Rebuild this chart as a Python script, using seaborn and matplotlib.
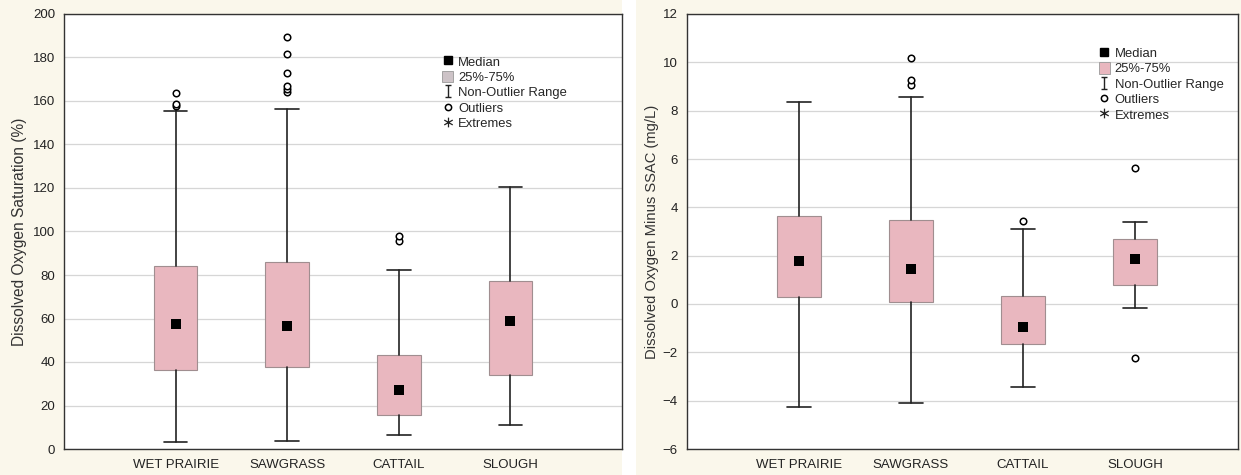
import matplotlib
matplotlib.use("Agg")
import matplotlib.pyplot as plt
from matplotlib.lines import Line2D
from matplotlib.patches import Patch, Rectangle
from matplotlib.path import Path
import seaborn as sns
import pandas as pd

categories = ["WET PRAIRIE", "SAWGRASS", "CATTAIL", "SLOUGH"]

# dissolved oxygen saturation (%)
sat_lo = [3.2, 3.8, 6.4, 11.0]
sat_q1 = [36.3, 37.5, 15.6, 34.0]
sat_med = [57.5, 56.5, 27.1, 58.9]
sat_q3 = [84.1, 86.0, 43.2, 77.2]
sat_hi = [155.5, 156.3, 82.3, 120.5]
sat_out = [[157.5, 158.8, 163.7],
           [164.0, 165.5, 167.0, 172.7, 181.5, 189.3],
           [95.8, 97.8],
           []]

# dissolved oxygen minus SSAC (mg/L)
ssac_lo = [-4.27, -4.11, -3.43, -0.15]
ssac_q1 = [0.30, 0.08, -1.65, 0.77]
ssac_med = [1.79, 1.45, -0.94, 1.85]
ssac_q3 = [3.65, 3.48, 0.33, 2.68]
ssac_hi = [8.36, 8.55, 3.09, 3.41]
ssac_out = [[], [9.05, 9.25, 10.17], [3.45], [5.61, -2.23]]

sns.set_style("white")
plt.rcParams["font.family"] = ["Liberation Sans", "DejaVu Sans"]

CREAM = "#faf7eb"
BOX = "#e9b7bf"

# legend glyphs: serif I for whisker range, thin asterisk for extremes
M, L = Path.MOVETO, Path.LINETO
range_marker = Path([(-0.5, 1), (0.5, 1), (0, 1), (0, -1), (-0.5, -1), (0.5, -1)],
                    [M, L, M, L, M, L])
star_marker = Path([(0, 1), (0, -1), (-0.87, 0.5), (0.87, -0.5), (-0.87, -0.5), (0.87, 0.5)],
                   [M, L, M, L, M, L])

fig = plt.figure(figsize=(12.41, 4.75), dpi=100, facecolor=CREAM)
fig.patches.append(Rectangle((622 / 1241, 0), 14 / 1241, 1, transform=fig.transFigure,
                             facecolor="white", edgecolor="none", zorder=-1))


def draw_panel(ax, lo, q1, med, q3, hi, out, ylim, yticks, ylabel, xmax, legend_xy,
               patch_color, label_size, label_pad):
    pos = list(range(1, len(categories) + 1))
    stats = []
    for i, c in enumerate(categories):
        stats.append(dict(label=c, whislo=lo[i], q1=q1[i], med=med[i], q3=q3[i],
                          whishi=hi[i], fliers=[]))
    ax.bxp(stats, positions=pos, widths=0.39, patch_artist=True, showfliers=False,
           boxprops=dict(facecolor=BOX, edgecolor="#a08e90", linewidth=0.8),
           whiskerprops=dict(color="#222222", linewidth=1.2),
           capprops=dict(color="#222222", linewidth=1.2),
           medianprops=dict(linewidth=0), capwidths=0.21, zorder=3)

    med_df = pd.DataFrame({"x": pos, "y": med})
    sns.scatterplot(data=med_df, x="x", y="y", marker="s", s=46, color="black",
                    edgecolor="black", linewidth=0, ax=ax, zorder=5)

    out_rows = [(pos[i], v) for i, vals in enumerate(out) for v in vals]
    if out_rows:
        out_df = pd.DataFrame(out_rows, columns=["x", "y"])
        sns.scatterplot(data=out_df, x="x", y="y", marker="o", s=22, facecolor="white",
                        edgecolor="black", linewidth=1.1, ax=ax, zorder=5)

    ax.set_xlim(0, xmax)
    ax.set_ylim(*ylim)
    ax.set_yticks(yticks)
    ax.set_xticks(pos)
    ax.set_xticklabels(categories)
    ax.set_xlabel("")
    ax.set_ylabel(ylabel, fontsize=label_size, color="#333333", labelpad=label_pad)
    ax.grid(axis="y", color="#d6d6d6", linewidth=0.9)
    ax.set_axisbelow(True)
    ax.tick_params(axis="y", direction="out", length=3, labelsize=9.5, colors="#222222")
    ax.tick_params(axis="x", direction="in", length=3, labelsize=9.5, colors="#222222", pad=7)
    for s in ax.spines.values():
        s.set_visible(True)
        s.set_color("#333333")
        s.set_linewidth(1.0)

    handles = [
        Line2D([], [], marker="s", color="black", linestyle="none", markersize=6),
        Patch(facecolor=patch_color, edgecolor="#999999", linewidth=0.6),
        Line2D([], [], marker=range_marker, color="#222222", markeredgewidth=1.0,
               linestyle="none", markersize=8),
        Line2D([], [], marker="o", markerfacecolor="white", markeredgecolor="black",
               linestyle="none", markersize=4.5, markeredgewidth=1.1),
        Line2D([], [], marker=star_marker, color="#222222", markeredgewidth=0.9,
               linestyle="none", markersize=7),
    ]
    labels = ["Median", "25%-75%", "Non-Outlier Range", "Outliers", "Extremes"]
    ax.legend(handles, labels, loc="upper left", bbox_to_anchor=legend_xy, frameon=False,
              fontsize=9.4, handlelength=0.8, handleheight=1.0, handletextpad=0.4,
              labelspacing=0.16, borderpad=0, borderaxespad=0)


ax1 = fig.add_axes([64 / 1241, 26 / 475, 558 / 1241, 435 / 475])
draw_panel(ax1, sat_lo, sat_q1, sat_med, sat_q3, sat_hi, sat_out,
           (0, 200), range(0, 201, 20), "Dissolved Oxygen Saturation (%)", 5,
           (0.678, 0.905), "#cdc3c7", 11.2, 4)

ax2 = fig.add_axes([687 / 1241, 26 / 475, 551 / 1241, 435 / 475])
draw_panel(ax2, ssac_lo, ssac_q1, ssac_med, ssac_q3, ssac_hi, ssac_out,
           (-6, 12), range(-6, 13, 2), "Dissolved Oxygen Minus SSAC (mg/L)", 4.92,
           (0.748, 0.925), BOX, 10.6, 3)

fig.savefig("out.png", dpi=100, facecolor=CREAM)
